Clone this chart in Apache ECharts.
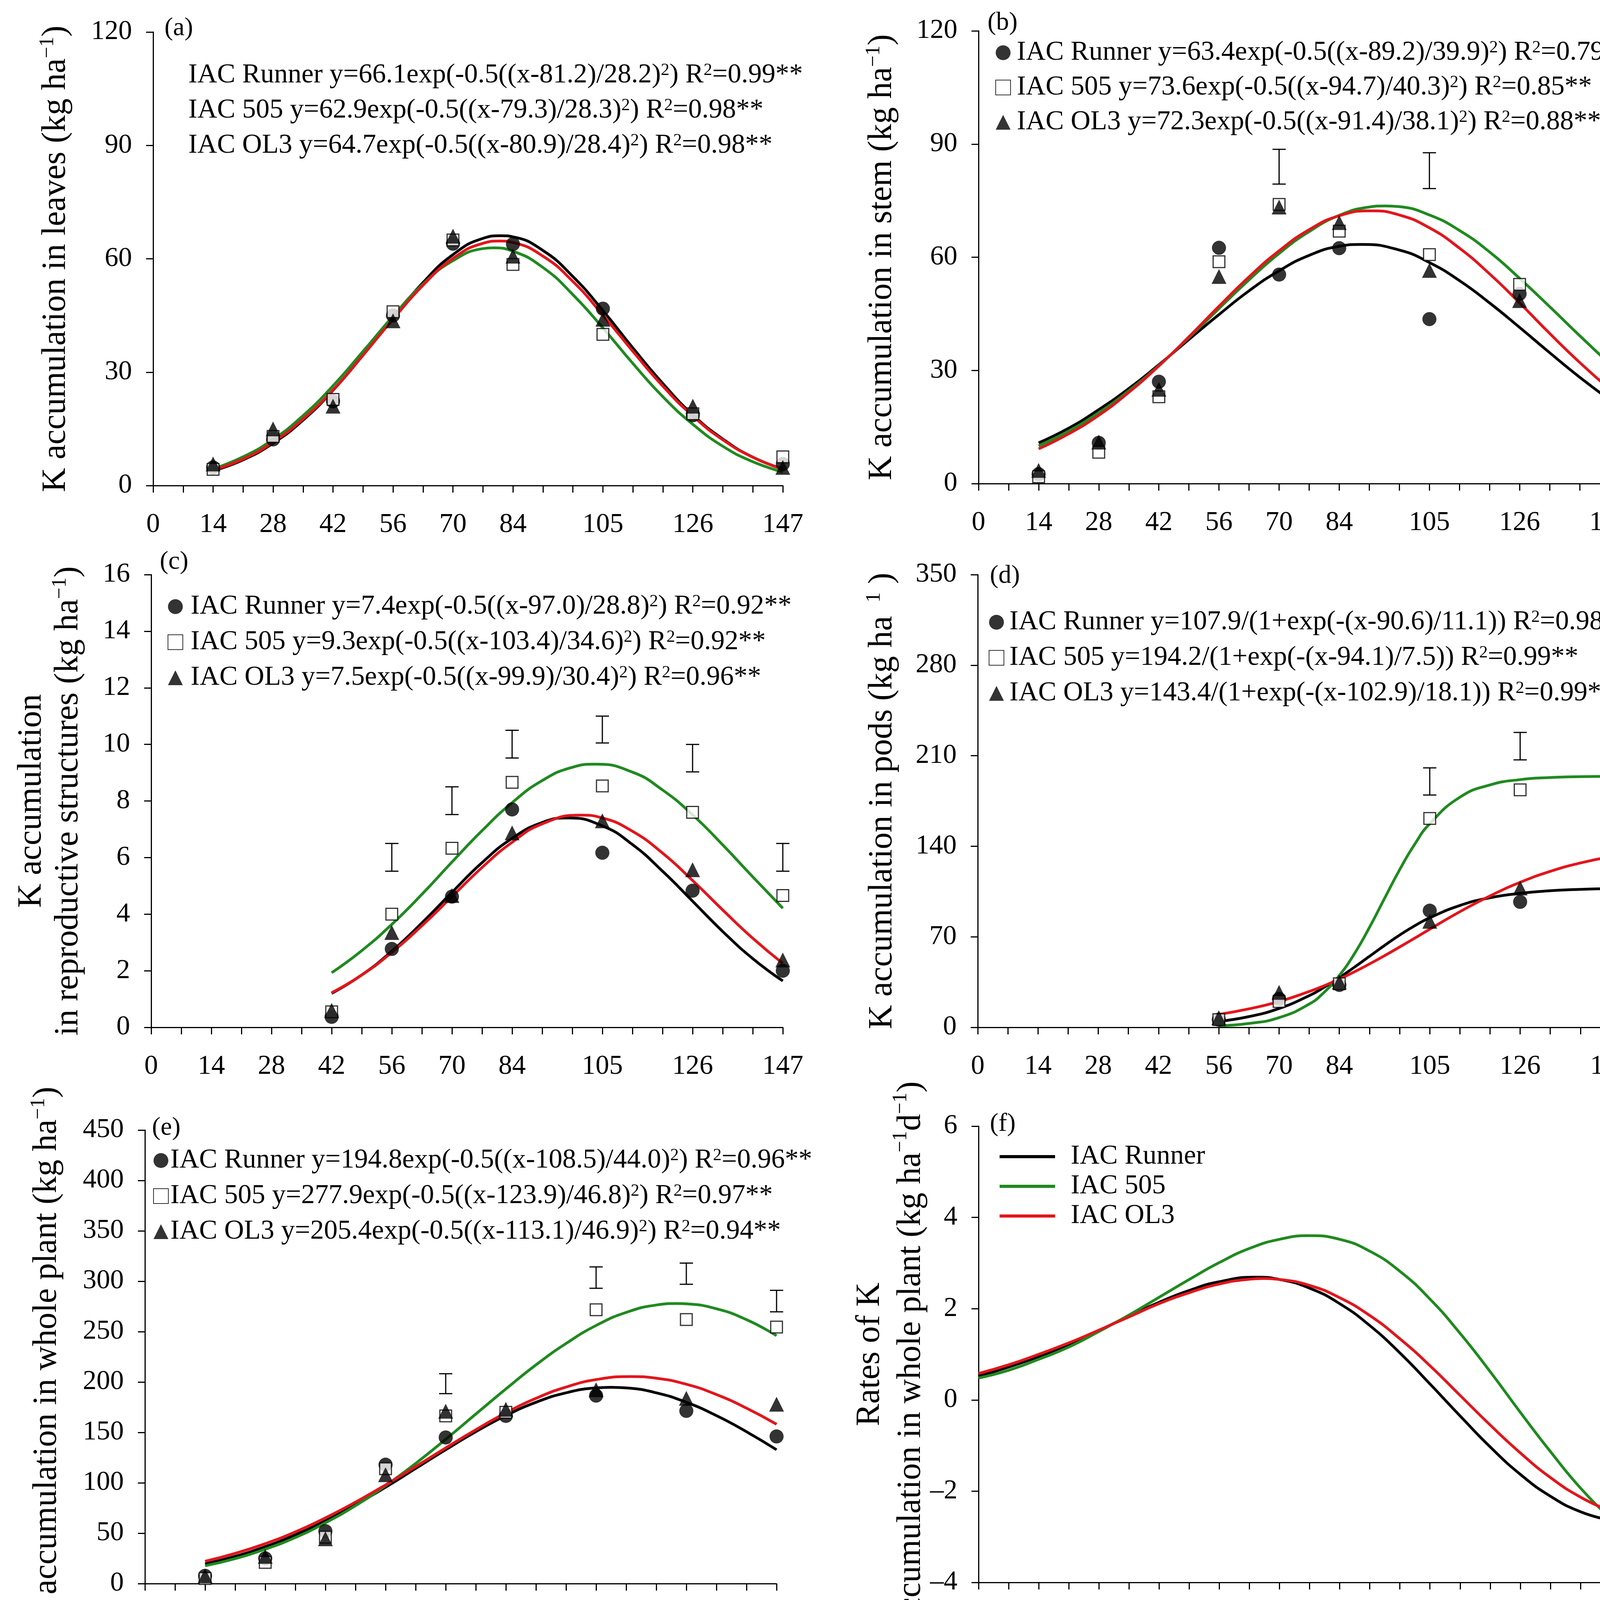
<!DOCTYPE html>
<html>
<head>
<meta charset="utf-8">
<script src="https://cdn.jsdelivr.net/npm/echarts@6/dist/echarts.min.js"></script>
<style>
html, body { margin: 0; padding: 0; background: #fff; }
#main { width: 4206px; height: 4348px; }
</style>
</head>
<body>
<div id="main"></div>
<script>
var F = "'Liberation Serif', 'Times New Roman', serif";

// sampling days
var days = [14, 28, 42, 56, 70, 84, 105, 126, 147];
var daysC = [42, 56, 70, 84, 105, 126, 147];
var daysD = [56, 70, 84, 105, 126, 147];
var xTickLabels = [0, 14, 28, 42, 56, 70, 84, 105, 126, 147];

// (a) leaves
var aRun = [4.8, 12.2, 22.3, 45.0, 64.0, 63.9, 46.8, 18.6, 5.7];
var a505 = [4.3, 13.0, 22.8, 46.0, 65.0, 58.5, 40.0, 19.0, 7.6];
var aOL3 = [5.7, 15.0, 21.0, 43.6, 66.0, 60.7, 44.0, 21.0, 4.8];
// (b) stem
var bRun = [2.5, 10.8, 27.0, 62.5, 55.4, 62.4, 43.6, 50.3, 26.7];
var b505 = [1.8, 8.3, 23.0, 58.8, 74.0, 66.9, 60.7, 52.8, 42.7];
var bOL3 = [3.5, 11.0, 25.0, 54.9, 73.3, 69.2, 56.5, 48.5, 35.3];
var bBarX = [70, 105, 147];
var bBarLo = [79.4, 78.2, 53.5];
var bBarHi = [88.6, 87.7, 62.7];
// (c) reproductive structures
var cRun = [0.37, 2.77, 4.62, 7.7, 6.17, 4.83, 2.0];
var c505 = [0.55, 4.0, 6.33, 8.66, 8.53, 7.6, 4.66];
var cOL3 = [0.6, 3.35, 4.66, 6.87, 7.3, 5.57, 2.38];
var cBarX = [56, 70, 84, 105, 126, 147];
var cBarLo = [5.52, 7.52, 9.52, 10.05, 9.03, 5.52];
var cBarHi = [6.5, 8.5, 10.5, 11.0, 10.0, 6.5];
// (d) pods
var dRun = [5.9, 22.0, 32.8, 90.2, 97.0, 111.0];
var d505 = [6.0, 20.0, 33.7, 161.5, 183.6, 199.8];
var dOL3 = [7.5, 27.0, 35.0, 82.0, 107.7, 136.0];
var dBarX = [105, 126, 147];
var dBarLo = [179.6, 206.8, 214.6];
var dBarHi = [200.6, 228.0, 236.0];
// (e) whole plant
var eRun = [7.7, 25.0, 52.0, 118.0, 145.0, 166.4, 186.5, 171.4, 146.0];
var e505 = [5.0, 21.0, 46.0, 114.0, 166.4, 170.0, 271.7, 262.0, 254.6];
var eOL3 = [7.7, 27.0, 44.5, 108.0, 171.0, 173.0, 192.3, 183.8, 178.0];
var eBarX = [70, 105, 126, 147];
var eBarLo = [188.5, 293.0, 297.0, 269.7];
var eBarHi = [208.2, 314.2, 318.0, 291.0];

// fitted curves (x positions, y values)
var aRunFitX = [14, 21, 28, 35, 42, 49, 56, 63, 70, 77, 81.2, 84, 91, 98, 105, 112, 119, 126, 133, 140, 147];
var aRunFit = [3.9, 6.8, 11.2, 17.3, 25.2, 34.5, 44.3, 53.7, 61.1, 65.4, 66.1, 65.8, 62.2, 55.3, 46.3, 36.4, 27.0, 18.7, 12.3, 7.5, 4.4];
var a505FitX = [14, 21, 28, 35, 42, 49, 56, 63, 70, 77, 79.3, 84, 91, 98, 105, 112, 119, 126, 133, 140, 147];
var a505Fit = [4.4, 7.6, 12.2, 18.5, 26.4, 35.5, 44.8, 53.3, 59.5, 62.7, 62.9, 62.0, 57.7, 50.5, 41.7, 32.3, 23.5, 16.2, 10.4, 6.3, 3.6];
var aOL3FitX = [14, 21, 28, 35, 42, 49, 56, 63, 70, 77, 80.9, 84, 91, 98, 105, 112, 119, 126, 133, 140, 147];
var aOL3Fit = [4.1, 7.0, 11.5, 17.6, 25.3, 34.5, 44.0, 53.0, 60.1, 64.1, 64.7, 64.3, 60.7, 54.0, 45.1, 35.5, 26.3, 18.4, 12.1, 7.5, 4.3];

var bRunFitX = [14, 21, 28, 35, 42, 49, 56, 63, 70, 77, 84, 89.2, 98, 105, 112, 119, 126, 133, 140, 147];
var bRunFit = [10.8, 14.7, 19.6, 25.2, 31.5, 38.2, 44.8, 51.1, 56.4, 60.5, 62.9, 63.4, 61.9, 58.6, 53.8, 47.9, 41.4, 34.7, 28.2, 22.2];
var b505FitX = [14, 21, 28, 35, 42, 49, 56, 63, 70, 77, 84, 91, 94.7, 98, 105, 112, 119, 126, 133, 140, 147];
var b505Fit = [10.0, 13.9, 18.8, 24.6, 31.3, 38.7, 46.4, 54.0, 61.0, 66.8, 71.1, 73.3, 73.6, 73.4, 71.2, 67.1, 61.4, 54.4, 46.9, 39.2, 31.7];
var bOL3FitX = [14, 21, 28, 35, 42, 49, 56, 63, 70, 77, 84, 91.4, 98, 105, 112, 119, 126, 133, 140, 147];
var bOL3Fit = [9.2, 13.2, 18.1, 24.2, 31.2, 38.9, 47.0, 54.8, 61.7, 67.3, 71.0, 72.3, 71.2, 67.8, 62.4, 55.6, 47.9, 39.8, 32.1, 25.0];

var cRunFitX = [42, 49, 56, 63, 70, 77, 84, 91, 97, 105, 112, 119, 126, 133, 140, 147];
var cRunFit = [1.20, 1.85, 2.69, 3.69, 4.77, 5.82, 6.68, 7.24, 7.40, 7.12, 6.46, 5.52, 4.46, 3.39, 2.43, 1.64];
var c505FitX = [42, 49, 56, 63, 70, 77, 84, 91, 98, 103.4, 112, 119, 126, 133, 140, 147];
var c505Fit = [1.93, 2.71, 3.64, 4.70, 5.84, 6.95, 7.94, 8.72, 9.19, 9.30, 9.02, 8.39, 7.51, 6.45, 5.32, 4.21];
var cOL3FitX = [42, 49, 56, 63, 70, 77, 84, 91, 99.9, 105, 112, 119, 126, 133, 140, 147];
var cOL3Fit = [1.22, 1.85, 2.65, 3.59, 4.62, 5.65, 6.54, 7.19, 7.50, 7.40, 6.93, 6.16, 5.19, 4.15, 3.15, 2.26];

var dFitX = [56, 63, 70, 77, 80.5, 84, 87.5, 91, 94.5, 98, 101.5, 105, 112, 119, 126, 133, 140, 147];
var dRunFit = [4.6, 8.3, 14.6, 24.5, 31.0, 38.4, 46.5, 54.9, 63.3, 71.3, 78.5, 84.7, 94.2, 100.2, 103.6, 105.6, 106.7, 107.2];
var d505Fit = [1.2, 3.0, 7.5, 18.0, 27.2, 40.1, 56.9, 77.3, 99.7, 121.8, 141.5, 157.4, 177.9, 187.4, 191.5, 193.1, 193.8, 194.0];
var dOL3Fit = [10.0, 14.3, 20.0, 27.7, 32.2, 37.3, 42.9, 49.0, 55.4, 62.1, 68.9, 75.9, 89.4, 101.6, 112.1, 120.6, 127.1, 131.9];

var eRunFitX = [14, 21, 28, 35, 42, 49, 56, 63, 70, 77, 84, 91, 98, 105, 108.5, 112, 119, 126, 133, 140, 147];
var eRunFit = [19.5, 27.0, 36.6, 48.4, 62.3, 78.2, 95.6, 114.2, 132.8, 150.7, 166.7, 179.9, 189.3, 194.2, 194.8, 194.2, 189.3, 179.9, 166.7, 150.7, 132.8];
var e505FitX = [14, 21, 28, 35, 42, 49, 56, 63, 70, 77, 84, 91, 98, 105, 112, 119, 123.9, 126, 133, 140, 147];
var e505Fit = [17.7, 24.8, 34.2, 45.7, 60.3, 77.3, 97.1, 119.2, 143.2, 168.2, 193.1, 217.0, 238.2, 256.1, 269.1, 276.4, 277.9, 277.6, 272.7, 261.9, 246.0];
var eOL3FitX = [14, 21, 28, 35, 42, 49, 56, 63, 70, 77, 84, 91, 98, 105, 113.1, 119, 126, 133, 140, 147];
var eOL3Fit = [22.1, 30.0, 39.6, 51.3, 65.2, 80.8, 97.9, 116.1, 134.6, 152.6, 169.4, 183.8, 195.0, 202.4, 205.4, 203.8, 197.8, 187.6, 174.1, 158.1];

// (f) rates
var fRunX = [0, 7, 14, 21, 28, 35, 42, 49, 56, 64.5, 70, 77, 84, 91, 98, 105, 112, 119, 126, 133, 140, 147];
var fRun = [0.52, 0.72, 0.95, 1.22, 1.52, 1.84, 2.14, 2.40, 2.59, 2.69, 2.64, 2.45, 2.11, 1.63, 1.03, 0.35, -0.35, -1.03, -1.63, -2.11, -2.45, -2.64];
var f505X = [0, 7, 14, 21, 28, 35, 42, 49, 56, 63, 70, 77, 84, 91, 98, 105, 112, 119, 126, 133, 140, 147];
var f505 = [0.48, 0.65, 0.89, 1.16, 1.50, 1.86, 2.25, 2.64, 3.01, 3.32, 3.52, 3.60, 3.52, 3.26, 2.82, 2.21, 1.46, 0.62, -0.27, -1.13, -1.93, -2.60];
var fOL3X = [0, 7, 14, 21, 28, 35, 42, 49, 56, 63, 66.2, 70, 77, 84, 91, 98, 105, 112, 119, 126, 133, 140, 147];
var fOL3 = [0.58, 0.77, 1.00, 1.25, 1.53, 1.82, 2.11, 2.35, 2.54, 2.645, 2.66, 2.64, 2.51, 2.24, 1.85, 1.34, 0.75, 0.10, -0.55, -1.16, -1.70, -2.13, -2.44];

// legend texts
var aEq = ['IAC Runner y=66.1exp(-0.5((x-81.2)/28.2)²) R²=0.99**', 'IAC 505 y=62.9exp(-0.5((x-79.3)/28.3)²) R²=0.98**', 'IAC OL3 y=64.7exp(-0.5((x-80.9)/28.4)²) R²=0.98**'];
var bEq = ['IAC Runner y=63.4exp(-0.5((x-89.2)/39.9)²) R²=0.79**', 'IAC 505 y=73.6exp(-0.5((x-94.7)/40.3)²) R²=0.85**', 'IAC OL3 y=72.3exp(-0.5((x-91.4)/38.1)²) R²=0.88**'];
var cEq = ['IAC Runner y=7.4exp(-0.5((x-97.0)/28.8)²) R²=0.92**', 'IAC 505 y=9.3exp(-0.5((x-103.4)/34.6)²) R²=0.92**', 'IAC OL3 y=7.5exp(-0.5((x-99.9)/30.4)²) R²=0.96**'];
var dEq = ['IAC Runner y=107.9/(1+exp(-(x-90.6)/11.1)) R²=0.98**', 'IAC 505 y=194.2/(1+exp(-(x-94.1)/7.5)) R²=0.99**', 'IAC OL3 y=143.4/(1+exp(-(x-102.9)/18.1)) R²=0.99**'];
var eEq = ['IAC Runner y=194.8exp(-0.5((x-108.5)/44.0)²) R²=0.96**', 'IAC 505 y=277.9exp(-0.5((x-123.9)/46.8)²) R²=0.97**', 'IAC OL3 y=205.4exp(-0.5((x-113.1)/46.9)²) R²=0.94**'];
var fNames = ['IAC Runner', 'IAC 505', 'IAC OL3'];

var colors = ['#000000', '#1f8a1f', '#e3151b'];
var marks = [
  { symbol: 'circle', symbolSize: 36, itemStyle: { color: '#000' } },
  { symbol: 'rect', symbolSize: 30, itemStyle: { color: '#fff', borderColor: '#000', borderWidth: 3 } },
  { symbol: 'triangle', symbolSize: 38, itemStyle: { color: '#000' } }
];

var panels = [
  { key: 'a', tag: '(a)', grid: [392, 82, 1612, 1161], y: [0, 120, 30], tagAt: [421, 40],
    name: '{t|K accumulation in leaves (kg ha}{s|−1}{t|)}', gap: 201, lh: 95,
    leg: [439, 158, 20, 0], icon: 'none', dx: days, pts: [aRun, a505, aOL3],
    fit: [[aRunFitX, aRunFit], [a505FitX, a505Fit], [aOL3FitX, aOL3Fit]], eq: aEq },
  { key: 'b', tag: '(b)', grid: [2505, 79, 1616, 1159], y: [0, 120, 30], tagAt: [2528, 26],
    name: '{t|K accumulation in stem (kg ha}{s|−1}{t|)}', gap: 199, lh: 95,
    leg: [2548, 100, 19, 11], dx: days, pts: [bRun, b505, bOL3],
    fit: [[bRunFitX, bRunFit], [b505FitX, b505Fit], [bOL3FitX, bOL3Fit]], eq: bEq,
    bars: [bBarX, bBarLo, bBarHi] },
  { key: 'c', tag: '(c)', grid: [387, 1471, 1617, 1159], y: [0, 16, 2], tagAt: [409, 1406],
    name: '{t|K accumulation}\n{t|in reproductive structures (kg ha}{s|−1}{t|)}', gap: 165, lh: 94,
    leg: [429, 1518, 21, 15], dx: daysC, pts: [cRun, c505, cOL3],
    fit: [[cRunFitX, cRunFit], [c505FitX, c505Fit], [cOL3FitX, cOL3Fit]], eq: cEq,
    bars: [cBarX, cBarLo, cBarHi] },
  { key: 'd', tag: '(d)', grid: [2503, 1471, 1620, 1159], y: [0, 350, 70], tagAt: [2534, 1442],
    name: '{t|K accumulation in pods (kg ha }{s| 1}{t| )}', gap: 196, lh: 95,
    leg: [2531, 1558, 21, 9], dx: daysD, pts: [dRun, d505, dOL3],
    fit: [[dFitX, dRunFit], [dFitX, d505Fit], [dFitX, dOL3Fit]], eq: dEq,
    bars: [dBarX, dBarLo, dBarHi] },
  { key: 'e', tag: '(e)', grid: [371, 2893, 1617, 1161], y: [0, 450, 50], tagAt: [389, 2855],
    name: '{t|K accumulation in whole plant (kg ha}{s|−1}{t|)}', gap: 203, lh: 95,
    leg: [392, 2936, 21, 0], dx: days, pts: [eRun, e505, eOL3],
    fit: [[eRunFitX, eRunFit], [e505FitX, e505Fit], [eOL3FitX, eOL3Fit]], eq: eEq,
    bars: [eBarX, eBarLo, eBarHi], xName: true, xPad: 90 },
  { key: 'f', tag: '(f)', grid: [2505, 2883, 1618, 1168], y: [-4, 6, 2], tagAt: [2534, 2845],
    name: '{t|Rates of K}\n{t|accumulation in whole plant (kg ha}{s|−1}{t|d}{s|−1}{t|)}', gap: 120, lh: 105,
    leg: [2559, 2926, 6, 35], lineLegend: true,
    fit: [[fRunX, fRun], [f505X, f505], [fOL3X, fOL3]], eq: fNames,
    xName: true, xPad: 48 }
];

function rich(s) {
  return '{t|' + s.replace(/²/g, '}{s|2}{t|') + '}';
}

function errBar(params, api) {
  var x = api.value(0);
  var lo = api.coord([x, api.value(1)]);
  var hi = api.coord([x, api.value(2)]);
  var st = { stroke: '#000', lineWidth: 3 };
  var w = 17;
  return {
    type: 'group',
    children: [
      { type: 'line', shape: { x1: lo[0], y1: lo[1], x2: hi[0], y2: hi[1] }, style: st },
      { type: 'line', shape: { x1: lo[0] - w, y1: lo[1], x2: lo[0] + w, y2: lo[1] }, style: st },
      { type: 'line', shape: { x1: hi[0] - w, y1: hi[1], x2: hi[0] + w, y2: hi[1] }, style: st }
    ]
  };
}

var axisLineStyle = { color: '#000', width: 3 };
var grids = [], xAxes = [], yAxes = [], series = [], legends = [], titles = [];

panels.forEach(function (p, i) {
  grids.push({ left: p.grid[0], top: p.grid[1], width: p.grid[2], height: p.grid[3],
    containLabel: false, outerBoundsMode: 'none' });

  var xa = {
    type: 'value', gridIndex: i, min: 0, max: 147, interval: 7,
    axisLine: { onZero: false, lineStyle: axisLineStyle },
    axisTick: { length: 18, lineStyle: axisLineStyle },
    axisLabel: { margin: 66, fontSize: 70, color: '#000', fontFamily: F,
      formatter: function (v) { return xTickLabels.indexOf(v) >= 0 ? String(v) : ''; } },
    splitLine: { show: false }
  };
  if (p.xName) {
    xa.name = 'Days after emergence';
    xa.nameLocation = 'middle';
    xa.nameGap = 180;
    xa.nameMoveOverlap = false;
    xa.nameTextStyle = { fontSize: 90, lineHeight: 95, color: '#000', fontFamily: F, padding: [0, 0, 0, p.xPad] };
  }
  xAxes.push(xa);

  yAxes.push({
    type: 'value', gridIndex: i, min: p.y[0], max: p.y[1], interval: p.y[2],
    axisLine: { show: true, onZero: false, lineStyle: axisLineStyle },
    axisTick: { show: true, length: 18, lineStyle: axisLineStyle },
    axisLabel: { margin: 54, fontSize: 70, color: '#000', fontFamily: F,
      formatter: function (v) { return String(v).replace('-', '–'); } },
    splitLine: { show: false },
    name: p.name, nameLocation: 'middle', nameRotate: 90, nameGap: p.gap, nameMoveOverlap: false,
    nameTextStyle: {
      color: '#000', fontFamily: F,
      rich: {
        t: { fontSize: 86, lineHeight: p.lh, fontFamily: F, color: '#000' },
        s: { fontSize: 52, lineHeight: 40, verticalAlign: 'top', fontFamily: F, color: '#000' }
      }
    }
  });

  titles.push({ text: p.tag, left: p.tagAt[0], top: p.tagAt[1], padding: 0,
    textStyle: { fontSize: 66, fontWeight: 'normal', fontFamily: F, color: '#000' } });

  var legNames = [];
  var legText = {};
  // fitted curves
  p.fit.forEach(function (c, k) {
    var nm = p.key + 'L' + k;
    series.push({
      name: nm, type: 'line', xAxisIndex: i, yAxisIndex: i, smooth: true,
      symbol: 'none', showSymbol: false, z: 3,
      lineStyle: { color: colors[k], width: 7 }, itemStyle: { color: colors[k] },
      data: c[0].map(function (x, j) { return [x, c[1][j]]; })
    });
    if (p.lineLegend) { legNames.push(nm); legText[nm] = p.eq[k]; }
  });
  // observed points
  if (p.pts) {
    p.pts.forEach(function (vals, k) {
      var nm = p.key + 'P' + k;
      series.push({
        name: nm, type: 'scatter', xAxisIndex: i, yAxisIndex: i, z: 4,
        symbol: marks[k].symbol, symbolSize: marks[k].symbolSize, itemStyle: marks[k].itemStyle,
        data: p.dx.map(function (x, j) { return [x, vals[j]]; })
      });
      legNames.push(nm); legText[nm] = p.eq[k];
    });
  }
  // LSD bars
  if (p.bars) {
    series.push({
      type: 'custom', xAxisIndex: i, yAxisIndex: i, z: 5, silent: true, clip: false,
      renderItem: errBar, encode: { x: 0, y: [1, 2] },
      data: p.bars[0].map(function (x, j) { return [x, p.bars[1][j], p.bars[2][j]]; })
    });
  }

  var spacer = p.leg[3];
  var icon = p.icon || (p.lineLegend ? 'rect' : null);
  legends.push({
    orient: 'vertical', left: p.leg[0], top: p.leg[1], itemGap: p.leg[2], padding: 0,
    selectedMode: false,
    itemWidth: p.lineLegend ? 142 : 38, itemHeight: p.lineLegend ? 8 : 38,
    data: legNames.map(function (n) { return icon ? { name: n, icon: icon } : { name: n }; }),
    formatter: function (n) { return (spacer ? '{g|}' : '') + rich(legText[n]); },
    textStyle: {
      color: '#000', fontFamily: F,
      rich: {
        g: { width: spacer, fontSize: 70, lineHeight: 70 },
        t: { fontSize: 70, lineHeight: 70, fontFamily: F, color: '#000' },
        s: { fontSize: 44, lineHeight: 30, verticalAlign: 'top', fontFamily: F, color: '#000' }
      }
    }
  });
});

var chart = echarts.init(document.getElementById('main'), null, { renderer: 'canvas' });
chart.setOption({
  animation: false,
  backgroundColor: '#fff',
  textStyle: { fontFamily: F },
  title: titles,
  grid: grids,
  xAxis: xAxes,
  yAxis: yAxes,
  legend: legends,
  series: series
});
</script>
</body>
</html>
